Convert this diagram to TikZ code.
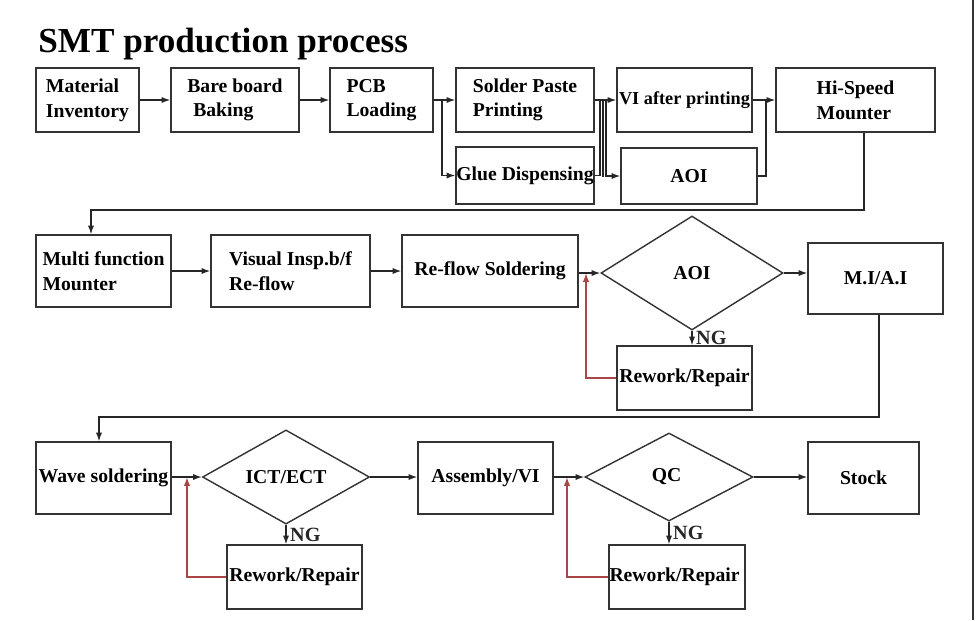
\documentclass[tikz,border=0pt]{standalone}
\usepackage{fontspec}
\setmainfont{Liberation Serif}
\usetikzlibrary{shapes.geometric, arrows.meta}

\newdimen\unitpx
\unitpx=0.02cm
\definecolor{loopred}{RGB}{170,70,70}

\begin{document}
\begin{tikzpicture}[x=0.02cm, y=-0.02cm,
  box/.style={draw=black!80, line width=0.8pt, fill=white, align=left,
    inner xsep=-1pt, inner ysep=1pt,
    font=\fontsize{11.2}{14}\selectfont\bfseries},
  decide/.style={box, diamond, align=center},
  link/.style={line width=0.8pt, black!85},
  arr/.style={link, -{Latex[length=5pt,width=3.6pt]}},
  back/.style={-{Latex[length=5pt,width=3.6pt]}, line width=0.8pt, loopred},
  ng/.style={right, inner sep=2pt, font=\fontsize{11.5}{14}\selectfont\bfseries}]

\useasboundingbox (0,0) rectangle (976,620);

% Tytuł
\node[anchor=base west, inner sep=0, font=\fontsize{20}{24}\selectfont\bfseries] (title) at (38,52) {SMT production process};

% Prostokąty (nazwa/x/y/szer./wys./tekst)
\foreach \n/\x/\y/\w/\h/\t in {
  mat/87.5/100/103/64/{Material\\Inventory},
  bake/235/100/128/64/{Bare board\\\hspace*{0.3em}Baking},
  pcb/381.5/100/103/64/{PCB\\Loading},
  paste/525/100/138/64/{Solder Paste\\Printing},
  glue/525/175.5/138/57/{Glue Dispensing},
  vi/684.5/100/135/64/{\fontsize{10.4}{14}\selectfont VI after printing},
  aoiA/689/176/136/56/{AOI},
  hsm/855.5/100/159/64/{Hi-Speed\\Mounter},
  mfm/103.5/271/135/72/{Multi function\\Mounter},
  vis/290.5/271/159/72/{Visual Insp.b/f\\Re-flow},
  rfs/490/271/176/72/{Re-flow Soldering},
  mia/875.5/278.5/135/71/{M.I/A.I},
  rw1/684.5/378/135/64/{Rework/Repair},
  wave/103.5/478/135/72/{Wave soldering},
  asm/485.5/478/135/72/{Assembly/VI},
  stock/863.5/478/111/72/{Stock},
  rw2/294.5/577/135/64/{Rework/Repair},
  rw3/677/577/136/64/{Rework/Repair}
} {
  \node[box, minimum width=\w\unitpx, minimum height=\h\unitpx] (\n) at (\x,\y) {\t};
}

% Romby decyzyjne
\foreach \n/\x/\y/\w/\h/\t in {
  aoiB/692/273/182/114/AOI,
  ict/286/477/167/89/{ICT/ECT},
  qc/669/477/168/88/QC
} {
  \node[decide, minimum width=\w\unitpx, minimum height=\h\unitpx] (\n) at (\x,\y) {\t};
}

% Punkty rozgałęzień
\coordinate (c0) at (442,100);
\coordinate (c1) at (600,100);
\coordinate (c2) at (603,100);
\coordinate (c3) at (606,100);
\coordinate (c4) at (766,100);
\coordinate (t1) at (864,210);
\coordinate (t2) at (91,210);
\coordinate (t3) at (879,417);
\coordinate (t4) at (99,417);
\coordinate (r1) at (586,273);
\coordinate (r2) at (187,477);
\coordinate (r3) at (567,477);

% Rząd 1
\draw[arr] (mat.east) -- (bake.west);
\draw[arr] (bake.east) -- (pcb.west);
\draw[arr] (pcb.east) -- (paste.west);
\draw[arr] (c0) |- (glue.west);
\draw[arr] (paste.east) -- (vi.west);
\draw[link] (glue.east) -| (c1);
\draw[link] (c2) -- ++(0,77);
\draw[arr] (c3) |- (aoiA.west);
\draw[arr] (vi.east) -- (hsm.west);
\draw[link] (aoiA.east) -| (c4);
\draw[arr] (hsm.south -| t1) |- (t2) -- (mfm.north -| t2);

% Rząd 2
\draw[arr] (mfm.east) -- (vis.west);
\draw[arr] (vis.east) -- (rfs.west);
\draw[arr] (rfs.east |- aoiB.west) -- (aoiB.west);
\draw[arr] (aoiB.east) -- (aoiB.east -| mia.west);
\draw[arr] (aoiB.south) -- node[ng] {NG} (aoiB.south |- rw1.north);
\draw[back] (rw1.west) -| (r1);
\draw[arr] (mia.south -| t3) |- (t4) -- (wave.north -| t4);

% Rząd 3
\draw[arr] (wave.east |- ict.west) -- (ict.west);
\draw[arr] (ict.east) -- (ict.east -| asm.west);
\draw[arr] (ict.south) -- node[ng] {NG} (ict.south |- rw2.north);
\draw[back] (rw2.west) -| (r2);
\draw[arr] (asm.east |- qc.west) -- (qc.west);
\draw[arr] (qc.east) -- (qc.east -| stock.west);
\draw[arr] (qc.south) -- node[ng] {NG} (qc.south |- rw3.north);
\draw[back] (rw3.west) -| (r3);

% Prawa krawędź
\draw[line width=1.2pt, black!80] (973,0) -- (973,620);

\end{tikzpicture}
\end{document}
